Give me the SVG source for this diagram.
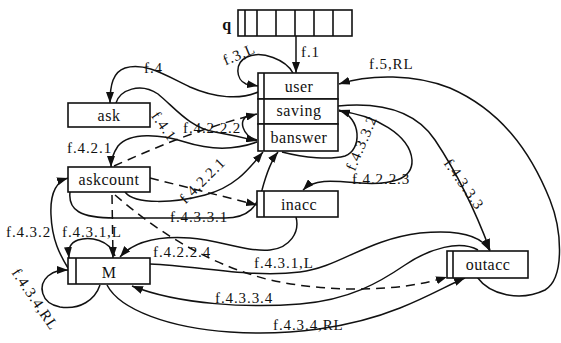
<svg xmlns="http://www.w3.org/2000/svg" width="561" height="343" viewBox="0 0 561 343">
<style>
.box{fill:#fff;stroke:#111;stroke-width:1.6}
.ln{fill:none;stroke:#111;stroke-width:1.6}
.c{fill:none;stroke:#111;stroke-width:1.5}
.d{fill:none;stroke:#111;stroke-width:1.5;stroke-dasharray:9 6}
.nt{font-family:"Liberation Serif","Times New Roman",serif;font-size:16px;letter-spacing:0.5px;fill:#111;text-anchor:middle}
.lb{font-family:"Liberation Serif","Times New Roman",serif;font-size:15px;letter-spacing:0.9px;fill:#111}
.lbm{font-family:"Liberation Serif","Times New Roman",serif;font-size:15px;letter-spacing:0.9px;fill:#111;text-anchor:middle}
</style>
<defs>
<marker id="ah" viewBox="0 0 11 8" refX="11" refY="4" markerWidth="11" markerHeight="8" markerUnits="userSpaceOnUse" orient="auto">
<path d="M0,0 L11,4 L0,8 z" fill="#111"/>
</marker>
</defs>
<rect width="561" height="343" fill="#fff"/>

<g id="connectors">
<path class="c" d="M296,36 L296,73" marker-end="url(#ah)"/>
<path class="c" d="M293,73 C286,60 262,50 247,57 C234,63 236,80 246,84 L258,86" marker-end="url(#ah)"/>
<path class="c" d="M258,92 C240,100 215,98 190,87 C165,75 145,62 125,68 C113,72 110,85 110,103" marker-end="url(#ah)"/>
<path class="c" d="M116,103 C120,90 140,82 158,94 C175,108 190,128 215,132 C232,135 245,138 257,141" marker-end="url(#ah)"/>
<path class="c" d="M257,140 C242,136 238,119 248,116"/>
<path class="d" d="M114,166 C150,150 200,128 257,114" marker-end="url(#ah)"/>
<path class="c" d="M257,142 C235,150 210,150 185,142 C160,134 130,132 118,146 C114,152 111,158 111,167" marker-end="url(#ah)"/>
<path class="c" d="M125,192 C135,205 175,203 205,195 C235,187 248,170 263,152" marker-end="url(#ah)"/>
<path class="c" d="M70,192 C68,210 80,218 115,218 L225,218 C250,218 257,205 262,190 C266,175 270,162 278,152" marker-end="url(#ah)"/>
<path class="d" d="M150,178 L257,205" marker-end="url(#ah)"/>
<path class="c" d="M68,268 C60,255 52,240 51,215 C50,195 55,182 68,178" marker-end="url(#ah)"/>
<path class="c" d="M115,256 C110,240 90,236 78,240 C70,243 68,248 69,258" marker-end="url(#ah)"/>
<path class="d" d="M112,195 L113,258" marker-end="url(#ah)"/>
<path class="d" d="M115,195 C150,225 200,262 270,280 C330,293 400,292 447,277" marker-end="url(#ah)"/>
<path class="c" d="M296,217 C300,232 290,248 270,250 C245,252 220,240 190,238 C160,236 135,240 120,257" marker-end="url(#ah)"/>
<path class="c" d="M150,264 C200,266 250,278 300,272 C340,267 365,240 420,233 C460,229 482,236 490,251" marker-end="url(#ah)"/>
<path class="c" d="M478,250 C460,240 430,248 405,265 C380,282 350,300 300,304 C250,308 180,305 132,286" marker-end="url(#ah)"/>
<path class="c" d="M107,285 C120,310 170,328 230,332 C290,336 350,328 400,308 C430,296 450,284 465,278" marker-end="url(#ah)"/>
<path class="c" d="M100,285 C95,300 80,310 60,307 C40,303 38,285 48,276 C55,270 62,270 68,270" marker-end="url(#ah)"/>
<path class="c" d="M477,277 C490,295 520,302 545,290 C565,278 562,230 550,200 C530,150 500,110 450,88 C415,74 370,74 339,84" marker-end="url(#ah)"/>
<path class="c" d="M338,106 C380,102 415,110 435,140 C455,170 475,210 490,250" marker-end="url(#ah)"/>
<path class="c" d="M339,111 C375,115 410,135 412,160 C413,180 390,185 360,183 C335,181 315,178 303,190" marker-end="url(#ah)"/>
<path class="c" d="M282,152 C305,158 330,160 345,156 C362,150 362,118 339,110" marker-end="url(#ah)"/>

<text class="lb" x="301" y="57">f.1</text>
<text class="lbm" transform="translate(241,59) rotate(-23)">f.3,L</text>
<text class="lb" x="144" y="73">f.4</text>
<text class="lb" x="369" y="69">f.5,RL</text>
<text class="lbm" transform="translate(160,129) rotate(55)">f.4.1</text>
<text class="lb" x="183" y="133">f.4.2.2.2</text>
<text class="lb" x="67" y="153">f.4.2.1</text>
<text class="lbm" transform="translate(206,184) rotate(-45)">f.4.2.2.1</text>
<text class="lbm" transform="translate(366,145) rotate(-67)">f.4.3.3.2</text>
<text class="lb" x="352" y="184">f.4.2.2.3</text>
<text class="lbm" transform="translate(460,187) rotate(55)">f.4.3.3.3</text>
<text class="lb" x="170" y="222">f.4.3.3.1</text>
<text class="lb" x="6" y="237">f.4.3.2</text>
<text class="lb" x="62" y="237">f.4.3.1,L</text>
<text class="lb" x="153" y="257">f.4.2.2.4</text>
<text class="lb" x="254" y="268">f.4.3.1,L</text>
<text class="lb" x="215" y="303">f.4.3.3.4</text>
<text class="lb" x="273" y="330">f.4.3.4,RL</text>
<text class="lbm" transform="translate(31,302) rotate(56)">f.4.3.4,RL</text>
</g>

<g id="q">
<rect class="box" x="238" y="10" width="114" height="26"/>
<path class="ln" d="M245,10 V36 M257,10 V36 M276,10 V36 M295,10 V36 M314,10 V36 M333,10 V36"/>
<text class="nt" x="227" y="30" style="font-weight:bold">q</text>
</g>

<g id="user">
<rect class="box" x="258" y="73" width="80" height="26"/>
<line class="ln" x1="264" y1="73" x2="264" y2="99"/>
<text class="nt" x="299" y="92">user</text>
</g>
<g id="saving">
<rect class="box" x="258" y="99" width="80" height="25"/>
<line class="ln" x1="264" y1="99" x2="264" y2="124"/>
<text class="nt" x="299" y="116">saving</text>
</g>
<g id="banswer">
<rect class="box" x="258" y="124" width="80" height="27"/>
<line class="ln" x1="264" y1="124" x2="264" y2="151"/>
<text class="nt" x="299" y="143">banswer</text>
</g>

<g id="ask">
<rect class="box" x="68" y="103" width="82" height="24"/>
<text class="nt" x="109" y="121">ask</text>
</g>
<g id="askcount">
<rect class="box" x="68" y="167" width="82" height="25"/>
<text class="nt" x="109" y="185">askcount</text>
</g>
<g id="inacc">
<rect class="box" x="257" y="191" width="81" height="26"/>
<line class="ln" x1="264" y1="191" x2="264" y2="217"/>
<text class="nt" x="299" y="210">inacc</text>
</g>
<g id="M">
<rect class="box" x="68" y="258" width="82" height="26"/>
<line class="ln" x1="76" y1="258" x2="76" y2="284"/>
<text class="nt" x="109" y="278">M</text>
</g>
<g id="outacc">
<rect class="box" x="447" y="251" width="81" height="27"/>
<line class="ln" x1="453" y1="251" x2="453" y2="278"/>
<text class="nt" x="488" y="270">outacc</text>
</g>
</svg>
